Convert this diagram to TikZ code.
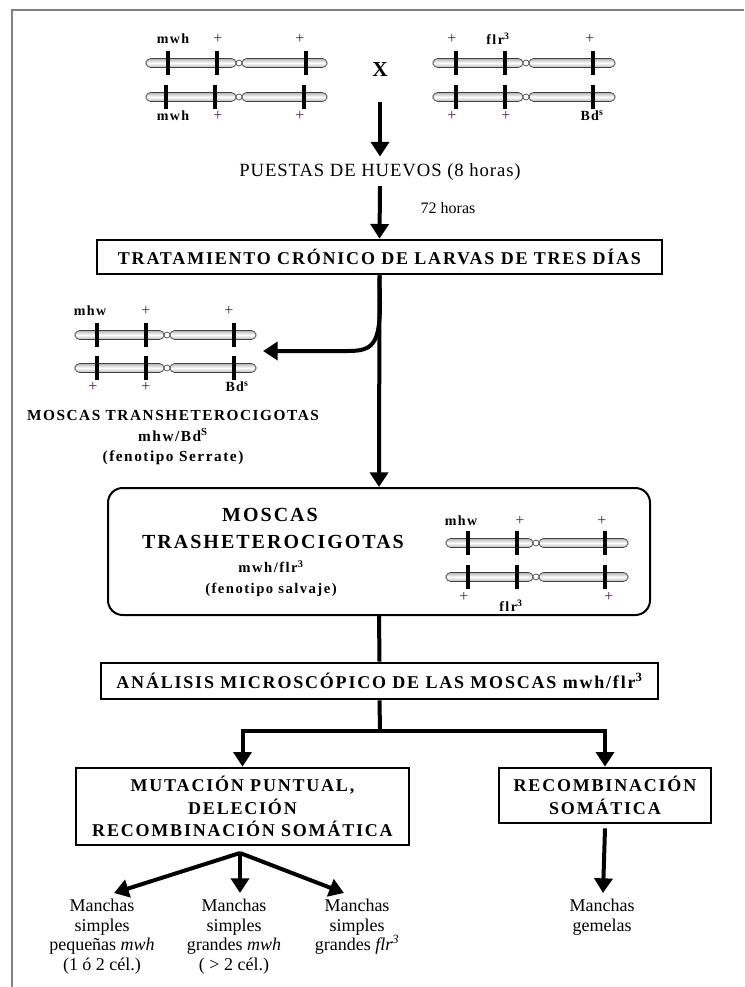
\documentclass[tikz,border=0pt]{standalone}
\usepackage{fontspec}
\setmainfont{Liberation Serif}
\newfontfamily\spaced[LetterSpace=10]{Liberation Serif}
\newfontfamily\spacedl[LetterSpace=5]{Liberation Serif}
\usetikzlibrary{arrows.meta, positioning, calc}
\definecolor{framegray}{RGB}{128,128,128}
\definecolor{plusviolet}{RGB}{70,30,90}
\tikzset{
  box_n/.style = {rectangle, draw=black, line width=2pt, align=center, inner sep=0pt, font=\spaced\bfseries\fontsize{13.5}{17}\selectfont},
  box_r/.style = {rectangle, draw=black, line width=1.5pt, rounded corners=11pt, inner sep=0pt},
  gen_b/.style = {inner sep=0pt, font=\spaced\bfseries\fontsize{10.5}{11}\selectfont},
  gen_p/.style = {inner sep=0pt, text=plusviolet, font=\fontsize{12}{12}\selectfont},
  big_b/.style = {inner sep=0pt, align=center, font=\spaced\bfseries\fontsize{15}{18}\selectfont},
  sub_b/.style = {inner sep=0pt, align=center, font=\spaced\bfseries\fontsize{11.5}{15.4}\selectfont},
  res_n/.style = {inner sep=0pt, align=center, anchor=north, font=\fontsize{13.5}{14.6}\selectfont},
  chr/.style = {draw=gray!50!black, line width=0.5pt, top color=gray!60, bottom color=gray!60, middle color=white, rounded corners=3.4pt},
  bar/.style = {line width=2.3pt},
  link/.style = {line width=3pt},
  flow/.style = {line width=3pt, ->}
}
% chromosome: left end, centromere, right end, height, three marks
\newcommand{\chromo}[7]{%
  \shadedraw[chr] (#1,#4-4.5) rectangle (#2-3,#4+4.5);
  \shadedraw[chr] (#2+3,#4-4.5) rectangle (#3,#4+4.5);
  \draw[gray!50!black, fill=white, line width=0.5pt] (#2,#4) circle (3);
  \foreach \b in {#5,#6,#7} \draw[bar] (\b,#4-12) -- (\b,#4+12);
}

\begin{document}
\begin{tikzpicture}[x=0.75pt, y=-0.75pt, >={Triangle[width=13.5pt,length=11pt]}]
  \useasboundingbox (0,0) rectangle (744,987);
  \draw[framegray, line width=1.5pt] (12,987) -- (12,10) -- (744,10);

  % parents
  \chromo{146}{239}{327}{63}{168}{217}{306}
  \chromo{146}{239}{327}{97}{166}{215}{304}
  \chromo{433}{526}{615}{63}{456}{505}{593}
  \chromo{433}{526}{615}{97}{456}{505}{593}
  \node[gen_b] (pa1) at (173,39) {mwh};
  \node[gen_p] (pa2) at (218,39) {+};
  \node[gen_p] (pa3) at (300,39) {+};
  \node[gen_b] (pa4) at (173,116) {mwh};
  \node[gen_p] (pa5) at (218,116) {+};
  \node[gen_p] (pa6) at (300,116) {+};
  \node[gen_p] (pb1) at (452,39) {+};
  \node[gen_b] (pb2) at (498,39) {flr\textsuperscript{3}};
  \node[gen_p] (pb3) at (590,39) {+};
  \node[gen_p] (pb4) at (452,116) {+};
  \node[gen_p] (pb5) at (506,116) {+};
  \node[gen_b] (pb6) at (592,116) {Bd\textsuperscript{s}};
  \node[font=\bfseries\fontsize{16}{18}\selectfont] (cross) at (380,70) {X};

  \node[inner sep=0pt, font=\spacedl\fontsize{14}{16}\selectfont] (eggs) at (380,172) {PUESTAS DE HUEVOS (8 horas)};
  \node[inner sep=0pt, font=\fontsize{12}{14}\selectfont] (hrs) at (448,208) {72 horas};
  \node[box_n, minimum width=423.75pt, minimum height=25.5pt] (trat) at (379.5,257) {TRATAMIENTO CRÓNICO DE LARVAS DE TRES DÍAS};
  \draw[flow] ([yshift=-15pt]cross.south) -- ([yshift=5pt]eggs.north);
  \draw[flow] ([yshift=-4pt]eggs.south) -- (trat.north);

  % Serrate flies
  \chromo{75}{167}{256}{335}{97}{146}{234}
  \chromo{75}{167}{256}{368}{97}{146}{234}
  \node[gen_b] (sa1) at (90,311) {mhw};
  \node[gen_p] (sa2) at (146,311) {+};
  \node[gen_p] (sa3) at (229,311) {+};
  \node[gen_p] (sa4) at (93,387) {+};
  \node[gen_p] (sa5) at (146,387) {+};
  \node[gen_b] (sa6) at (237,387) {Bd\textsuperscript{s}};
  \coordinate (spair) at (263,351);
  \node[sub_b] (scap) at (173,438) {MOSCAS TRANSHETEROCIGOTAS\\mhw/Bd\textsuperscript{S}\\(fenotipo Serrate)};

  % wild type flies
  \node[box_r, minimum width=406.5pt, minimum height=95.25pt] (rbox) at (379,551.5) {};
  \node[big_b] (rt1) at (270,515) {MOSCAS};
  \node[big_b] (rt2) at (273,542) {TRASHETEROCIGOTAS};
  \node[sub_b, font=\spaced\bfseries\fontsize{11}{13}\selectfont] (rt3) at (271,567) {mwh/flr\textsuperscript{3}};
  \node[sub_b, font=\spaced\bfseries\fontsize{11}{13}\selectfont] (rt4) at (271,590) {(fenotipo salvaje)};
  \chromo{446}{536}{628}{543}{468}{517}{605}
  \chromo{446}{536}{628}{577}{468}{517}{605}
  \node[gen_b] (wa1) at (461,521) {mhw};
  \node[gen_p] (wa2) at (520,521) {+};
  \node[gen_p] (wa3) at (602,521) {+};
  \node[gen_p] (wa4) at (464,597) {+};
  \node[gen_b] (wa5) at (511,606) {flr\textsuperscript{3}};
  \node[gen_p] (wa6) at (609,597) {+};

  \draw[flow] (trat.south) -- (rbox.north);
  \draw[flow] (trat.south) -- (380,303) .. controls (380,345) and (372,351) .. (348,351) -- (spair);

  % analysis
  \node[box_n, minimum width=417.75pt, minimum height=27pt] (ana) at (379.5,681) {ANÁLISIS MICROSCÓPICO DE LAS MOSCAS mwh/flr\textsuperscript{3}};
  \node[box_n, minimum width=249.75pt, minimum height=57.75pt] (mut) at (242.5,806.5) {MUTACIÓN PUNTUAL,\\DELECIÓN\\RECOMBINACIÓN SOMÁTICA};
  \node[box_n, minimum width=159pt, minimum height=41.25pt] (rec) at (605,795.5) {RECOMBINACIÓN\\SOMÁTICA};
  \coordinate (split) at (380,731);
  \coordinate (sl) at (242.5,731);
  \coordinate (sr) at (605,731);
  \draw[link] (rbox.south) -- (ana.north);
  \draw[link] (ana.south) -- (split);
  \draw[flow] (split) -- (sl) -- (mut.north);
  \draw[flow] (split) -- (sr) -- (rec.north);

  % spots
  \node[res_n] (m1) at (102,899) {Manchas\\simples\\pequeñas \textit{mwh}\\(1 ó 2 cél.)};
  \node[res_n] (m2) at (234,899) {Manchas\\simples\\grandes \textit{mwh}\\( > 2 cél.)};
  \node[res_n] (m3) at (357,899) {Manchas\\simples\\grandes \textit{flr\textsuperscript{3}}};
  \node[res_n] (m4) at (602,899) {Manchas\\gemelas};
  \coordinate (mo) at (240,853);
  \draw[flow] (mo) -- ([xshift=9pt,yshift=4.5pt]m1.north);
  \draw[flow] (mo) -- ([xshift=4.5pt,yshift=4.5pt]m2.north);
  \draw[flow] (mo) -- ([xshift=-9.75pt,yshift=4.5pt]m3.north);
  \draw[flow] ([yshift=-3pt]rec.south) -- ([xshift=0.75pt,yshift=4.5pt]m4.north);
\end{tikzpicture}
\end{document}
